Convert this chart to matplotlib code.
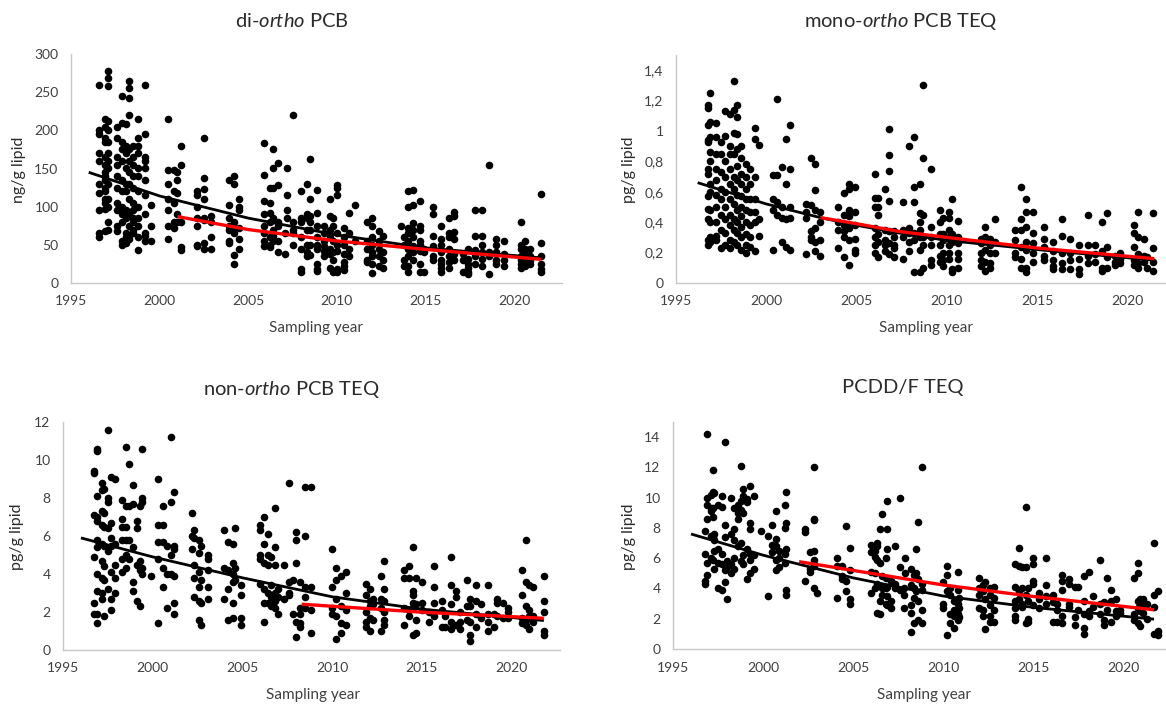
import matplotlib
matplotlib.use('Agg')
import matplotlib.pyplot as plt
import numpy as np

plt.rcParams['font.family'] = ['Lato', 'DejaVu Sans']
plt.rcParams['mathtext.fontset'] = 'custom'
plt.rcParams['mathtext.rm'] = 'Lato'
plt.rcParams['mathtext.it'] = 'Lato:italic'

# ---- di-ortho PCB (ng/g lipid), points grouped by sampling time ----
di_yr = [1996.6, 1996.9, 1997.1, 1997.6, 1997.9, 1998.1, 1998.3, 1998.5, 1998.8, 1999.2,
         1999.5, 2000.5, 2000.8, 2001.0, 2001.2, 2002.1, 2002.5, 2002.9, 2003.9, 2004.2,
         2004.5, 2005.9, 2006.2, 2006.4, 2006.7, 2007.1, 2007.2, 2007.5, 2008.0, 2008.3,
         2008.5, 2008.9, 2009.3, 2009.6, 2009.8, 2010.0, 2010.4, 2010.7, 2011.0, 2011.7,
         2012.0, 2012.4, 2012.6, 2013.6, 2013.8, 2014.0, 2014.3, 2014.7, 2014.9, 2015.4,
         2015.9, 2016.3, 2016.6, 2017.1, 2017.4, 2017.8, 2018.2, 2018.6, 2019.0, 2019.4,
         2020.4, 2020.6, 2020.9, 2021.5]
di_vals = [[260, 200, 195, 170, 160, 130, 118, 95, 65, 60],
           [215, 205, 190, 185, 165, 155, 145, 140, 135, 125, 120, 110, 105, 97, 68],
           [278, 268, 258, 212, 200, 185, 170, 160, 150, 130, 110, 100, 80, 70],
           [205, 190, 165, 155, 140, 125, 105, 95, 75, 68],
           [245, 210, 185, 175, 160, 135, 120, 100, 90, 80, 55, 50],
           [208, 180, 170, 150, 130, 120, 95, 85, 65, 60, 52],
           [265, 255, 243, 220, 175, 160, 145, 130, 110, 90, 75, 62, 58],
           [180, 165, 155, 140, 125, 105, 95, 85, 80, 70, 65],
           [215, 190, 180, 170, 150, 140, 120, 100, 85, 75, 60, 43],
           [260, 195, 165, 160, 150, 135, 115, 90, 65, 62, 55],
           [102, 75, 55],
           [215, 148, 130, 110, 95, 75, 57],
           [148, 120, 105, 80, 72],
           [145, 135, 118, 90, 80],
           [180, 155, 80, 47, 43],
           [120, 115, 100, 85, 75, 50, 48],
           [190, 138, 123, 110, 85, 82, 52, 45],
           [88, 80, 60, 45],
           [135, 102, 85, 75, 70, 55, 52],
           [140, 130, 80, 72, 65, 37, 25],
           [110, 100, 95, 72, 58, 45],
           [183, 142, 108, 90, 75, 65, 55, 48],
           [125, 105, 92, 80, 60, 50, 47],
           [175, 150, 125, 85, 70, 62, 55],
           [157, 128, 80, 75, 55, 40],
           [38, 65],
           [150, 115, 95, 85],
           [220, 80, 70, 65, 50],
           [120, 85, 80, 60, 45, 15, 18],
           [130, 90, 85, 70, 50, 40, 35],
           [163, 110, 88, 80, 70, 50, 37],
           [122, 92, 75, 60, 50, 45, 25, 18, 16],
           [75, 65, 55, 48, 42, 35],
           [110, 88, 70, 60, 45, 38, 20],
           [85, 75, 55, 40, 30, 15],
           [128, 125, 115, 65, 50, 42, 18, 15],
           [72, 60, 50, 38, 28, 22, 17],
           [92, 65, 45, 35],
           [102, 55],
           [80, 55, 45, 30, 28],
           [85, 75, 60, 50, 40, 35, 25, 13],
           [68, 55, 45, 35, 22],
           [62, 40, 30, 20],
           [75],
           [60, 50, 30, 22],
           [120, 100, 72, 65, 55, 45, 35, 22, 15],
           [122, 102, 78, 70, 60, 48, 40, 30],
           [108, 75, 70, 55, 50, 42, 25, 15],
           [45, 40, 15],
           [100, 90, 62, 48, 35, 30],
           [75, 58, 50, 40, 30, 25, 20, 15],
           [85, 65, 60, 45, 35, 28, 20],
           [93, 88, 67, 58, 38, 30],
           [38, 30, 15],
           [45, 32, 25, 20, 15, 12],
           [96, 62, 43, 35, 25],
           [96, 62, 50, 40, 32, 22],
           [155, 40, 35, 12],
           [58, 50, 40, 30, 25],
           [55, 38, 30, 22],
           [80, 50, 45, 35, 30, 25, 20],
           [55, 45, 38, 32, 28, 22],
           [45, 35, 30, 25],
           [117, 52, 35, 25, 18, 14]]
di_trend_yr = [1996, 2000, 2005, 2010, 2015, 2021.5]
di_trend = [145, 114, 85, 63, 46, 33]
di_red_yr = [2001, 2005, 2010, 2015, 2021.5]
di_red = [87, 70, 55, 44, 31]

# ---- mono-ortho PCB TEQ (pg/g lipid) ----
mono_yr = [1996.8, 1996.9, 1997.2, 1997.5, 1997.7, 1998.0, 1998.2, 1998.4, 1998.6, 1998.9,
           1999.1, 1999.4, 1999.6, 2000.4, 2000.6, 2000.9, 2001.1, 2001.3, 2002.2, 2002.5,
           2002.7, 2003.0, 2004.0, 2004.3, 2004.6, 2004.9, 2006.0, 2006.2, 2006.6, 2006.8,
           2007.1, 2007.6, 2007.9, 2008.2, 2008.5, 2008.7, 2009.1, 2009.6, 2009.8, 2010.1,
           2010.3, 2010.6, 2011.9, 2012.1, 2012.4, 2012.7, 2013.8, 2014.1, 2014.4, 2014.8,
           2015.4, 2015.9, 2016.4, 2016.8, 2017.3, 2017.8, 2018.2, 2018.6, 2018.9, 2019.3,
           2019.6, 2020.4, 2020.6, 2020.9, 2021.1, 2021.4]
mono_vals = [[1.17, 1.15, 1.04, 0.94, 0.93, 0.75, 0.72, 0.57, 0.49, 0.42, 0.28, 0.25],
             [1.25, 1.06, 0.96, 0.86, 0.80, 0.65, 0.60, 0.48, 0.40, 0.30, 0.27],
             [1.05, 0.96, 0.85, 0.75, 0.68, 0.58, 0.50, 0.40, 0.31, 0.28],
             [0.93, 0.85, 0.73, 0.62, 0.55, 0.45, 0.35, 0.23],
             [1.13, 0.97, 0.80, 0.70, 0.60, 0.50, 0.42, 0.33, 0.25],
             [1.11, 0.90, 0.85, 0.75, 0.65, 0.55, 0.45, 0.38, 0.28, 0.23],
             [1.33, 1.14, 0.99, 0.85, 0.70, 0.62, 0.52, 0.42, 0.35, 0.27],
             [1.17, 1.09, 0.98, 0.88, 0.77, 0.68, 0.58, 0.48, 0.40, 0.33, 0.25],
             [0.90, 0.82, 0.72, 0.65, 0.57, 0.50, 0.44, 0.37, 0.30, 0.22],
             [0.78, 0.70, 0.62, 0.55, 0.48, 0.40, 0.32, 0.25, 0.20],
             [0.75, 0.65, 0.55, 0.47, 0.38, 0.30, 0.24],
             [1.02, 0.95, 0.70, 0.55, 0.47, 0.40, 0.21],
             [0.91, 0.42, 0.31],
             [0.71, 0.55, 0.48, 0.22],
             [1.21, 0.71, 0.53, 0.45],
             [0.76, 0.50, 0.43, 0.27],
             [0.95, 0.65, 0.42, 0.24],
             [1.04, 0.75, 0.50, 0.43, 0.22],
             [0.52, 0.47, 0.43, 0.19],
             [0.82, 0.51, 0.34, 0.30, 0.28],
             [0.78, 0.61, 0.48, 0.36, 0.27, 0.21],
             [0.47, 0.40, 0.28, 0.18],
             [0.50, 0.40, 0.35, 0.23],
             [0.59, 0.45, 0.38, 0.34, 0.30, 0.17],
             [0.65, 0.62, 0.48, 0.44, 0.36, 0.28, 0.12],
             [0.63, 0.47, 0.38, 0.29, 0.22, 0.20],
             [0.72, 0.56, 0.50, 0.36, 0.30, 0.25, 0.20],
             [0.56, 0.50, 0.45, 0.32, 0.27, 0.17],
             [0.62, 0.35, 0.28, 0.25, 0.21],
             [1.01, 0.84, 0.74, 0.54, 0.34, 0.26, 0.19],
             [0.34, 0.30, 0.25, 0.23, 0.17],
             [0.53, 0.35, 0.30, 0.16],
             [0.90, 0.36, 0.33, 0.27, 0.21],
             [0.96, 0.63, 0.53, 0.33, 0.28, 0.07],
             [0.65, 0.46, 0.40, 0.35, 0.30, 0.22, 0.07],
             [1.30, 0.82, 0.45, 0.30, 0.25, 0.10],
             [0.75, 0.37, 0.30, 0.25, 0.15, 0.12],
             [0.48, 0.40, 0.32, 0.25, 0.18, 0.14],
             [0.43, 0.32, 0.28, 0.20, 0.15, 0.11],
             [0.47, 0.43, 0.35, 0.30, 0.25, 0.20, 0.16],
             [0.55, 0.32, 0.27, 0.07, 0.09],
             [0.41, 0.30, 0.26, 0.20, 0.16, 0.10],
             [0.29, 0.26, 0.20, 0.15, 0.11],
             [0.37, 0.30, 0.22, 0.14, 0.08],
             [0.29, 0.25, 0.20, 0.13, 0.10],
             [0.42, 0.27, 0.20],
             [0.35, 0.28, 0.20, 0.17],
             [0.63, 0.42, 0.35, 0.24, 0.16, 0.10],
             [0.55, 0.47, 0.37, 0.27, 0.22, 0.10, 0.07],
             [0.47, 0.33, 0.26, 0.20, 0.14],
             [0.37, 0.29, 0.24, 0.18, 0.15],
             [0.27, 0.21, 0.15, 0.11, 0.09],
             [0.42, 0.31, 0.20, 0.13, 0.09],
             [0.29, 0.20, 0.15, 0.09],
             [0.25, 0.16, 0.09, 0.06],
             [0.45, 0.25, 0.18, 0.13],
             [0.25, 0.19, 0.14],
             [0.40, 0.21, 0.10, 0.08],
             [0.46, 0.24, 0.17, 0.10],
             [0.18, 0.14, 0.12],
             [0.20, 0.16, 0.13],
             [0.38, 0.33, 0.24, 0.15, 0.12],
             [0.47, 0.30, 0.19, 0.13, 0.10],
             [0.29, 0.18, 0.14],
             [0.17, 0.10],
             [0.46, 0.23, 0.14, 0.08]]
mono_trend_yr = [1996.2, 2000, 2003, 2005, 2007.3, 2010, 2015, 2021.5]
mono_trend = [0.66, 0.52, 0.43, 0.38, 0.33, 0.28, 0.22, 0.15]
mono_red_yr = [2003, 2005, 2007.3, 2010, 2015, 2021.5]
mono_red = [0.43, 0.39, 0.34, 0.30, 0.23, 0.16]

# ---- non-ortho PCB TEQ (pg/g lipid) ----
non_yr = [1996.7, 1996.9, 1997.2, 1997.3, 1997.5, 1997.7, 1997.9, 1998.3, 1998.5, 1998.7,
          1998.9, 1999.1, 1999.3, 1999.4, 1999.9, 2000.3, 2000.6, 2000.8, 2001.0, 2001.2,
          2002.2, 2002.3, 2002.6, 2002.7, 2003.1, 2004.0, 2004.2, 2004.5, 2004.6, 2004.9,
          2006.0, 2006.2, 2006.4, 2006.6, 2006.8, 2007.0, 2007.3, 2007.6, 2007.8, 2008.0,
          2008.2, 2008.5, 2008.8, 2010.0, 2010.2, 2010.5, 2010.8, 2011.9, 2012.1, 2012.3,
          2012.7, 2012.9, 2014.0, 2014.3, 2014.5, 2014.7, 2015.0, 2015.4, 2015.7, 2016.1,
          2016.3, 2016.6, 2016.9, 2017.1, 2017.5, 2017.7, 2018.0, 2018.3, 2018.7, 2019.0,
          2019.2, 2019.5, 2019.8, 2020.6, 2020.8, 2021.0, 2021.2, 2021.8]
non_vals = [[9.4, 9.3, 7.1, 4.9, 2.5, 1.9],
            [10.6, 10.5, 8.1, 7.0, 6.8, 5.8, 5.4, 4.0, 3.1, 1.4, 1.9],
            [8.8, 8.4, 7.3, 6.6, 5.6, 4.7, 3.8, 3.0, 2.7],
            [8.5, 7.2, 6.5, 5.5, 4.4, 3.7, 1.8],
            [11.6, 8.0, 7.8, 6.4, 5.2, 3.2],
            [9.1, 6.7, 5.9, 5.5, 4.1, 2.7, 2.1],
            [9.0, 5.6, 4.5, 3.8, 3.0],
            [7.9, 6.9, 6.5, 5.8, 4.8, 4.1],
            [10.7, 7.6, 6.5, 5.8, 5.0, 4.3],
            [9.8, 7.6, 5.8, 4.8],
            [8.7, 7.7, 5.4, 3.6, 3.1],
            [6.8, 6.4, 4.5, 2.6],
            [7.6, 4.7, 4.2, 2.3],
            [10.6, 8.0, 7.8, 4.3, 4.0],
            [3.9],
            [9.0, 6.6, 5.7, 4.8, 1.4],
            [7.6, 6.6, 5.7, 4.3, 3.3],
            [5.5, 4.0, 2.2],
            [11.2, 7.8, 5.0, 4.0],
            [8.3, 5.5, 5.3, 3.9, 2.5, 1.9],
            [7.2, 6.0, 5.3],
            [6.3, 5.9, 4.5, 3.8, 2.8],
            [5.8, 5.1, 4.1, 3.3, 2.6, 1.6],
            [5.5, 3.7, 2.5, 1.3],
            [5.0, 4.8, 4.2, 3.3, 2.7],
            [6.3, 4.3, 2.7],
            [5.7, 4.2, 3.2, 1.6],
            [5.6, 4.6, 4.0, 3.6, 2.5, 1.7],
            [6.4, 4.3, 3.7],
            [3.4, 2.9, 1.7, 1.3],
            [6.6, 6.3, 5.0, 4.8, 3.5],
            [7.0, 5.6, 4.6, 3.2, 2.5, 1.5],
            [6.1, 5.0, 4.5, 3.0, 2.5],
            [4.9, 3.4, 2.8, 2.3],
            [7.5, 5.4, 4.5, 3.0, 2.6, 2.2],
            [3.2, 2.8, 1.9],
            [4.5, 2.7],
            [8.8, 3.6, 3.0, 2.9],
            [3.7, 1.9],
            [6.2, 5.8, 4.6, 1.5, 0.7],
            [3.6, 2.2, 1.9, 1.4, 1.2],
            [8.6, 6.0, 3.3, 2.8, 2.2],
            [8.6, 3.3, 2.1, 0.9],
            [5.3, 3.3, 2.2, 1.9],
            [4.3, 3.7, 2.7, 1.8, 0.6],
            [3.9, 2.3, 1.4, 0.9],
            [4.1, 3.0, 2.1, 1.3],
            [3.5, 2.9, 2.0, 1.5, 1.2],
            [3.2, 2.6, 2.3, 1.7, 1.0],
            [2.7, 2.4, 1.6],
            [3.9, 2.7, 2.2, 1.0],
            [4.7, 3.2, 2.6, 2.0, 1.6, 1.3],
            [4.2, 3.8, 2.2, 1.3],
            [4.4, 3.8, 2.1, 1.8],
            [5.4, 3.1, 2.9, 2.5, 2.2, 0.8],
            [3.8, 2.4, 1.6, 0.9],
            [3.6, 2.5, 2.1],
            [1.5, 2.0],
            [4.4, 3.3, 2.5, 1.8],
            [2.6, 2.1, 1.2],
            [1.8, 1.2],
            [4.9, 3.4, 2.4, 1.5, 1.1],
            [3.1, 2.8, 1.3],
            [2.0, 1.5, 1.1],
            [3.7, 2.3, 1.6],
            [2.7, 2.3, 1.5, 0.8, 0.5],
            [3.4, 2.6, 1.9, 1.2],
            [2.4, 1.7],
            [3.4, 1.9, 1.5, 1.0],
            [1.9, 1.2],
            [2.7, 2.5, 1.8],
            [2.5, 1.7],
            [2.2, 2.0, 1.7],
            [4.2, 2.9, 1.7, 1.4],
            [5.8, 3.6, 2.3, 1.6, 1.3],
            [3.4, 2.1, 1.8, 1.1],
            [3.3, 1.8, 1.5],
            [3.9, 2.6, 2.0, 1.0, 0.8]]
non_trend_yr = [1996, 2000, 2005, 2010, 2015, 2021.8]
non_trend = [5.9, 4.9, 3.8, 2.8, 2.15, 1.55]
non_red_yr = [2008.3, 2015, 2021.8]
non_red = [2.41, 1.99, 1.67]

# ---- PCDD/F TEQ (pg/g lipid) ----
pcdd_yr = [1996.8, 1996.9, 1997.1, 1997.2, 1997.3, 1997.5, 1997.7, 1997.9, 1998.0, 1998.2,
           1998.4, 1998.6, 1998.8, 1998.9, 1999.1, 1999.3, 1999.5, 1999.9, 2000.3, 2000.5,
           2000.7, 2000.9, 2001.2, 2001.3, 2002.3, 2002.6, 2002.8, 2003.0, 2004.1, 2004.4,
           2004.6, 2004.8, 2006.0, 2006.2, 2006.3, 2006.5, 2006.6, 2006.8, 2006.9, 2007.1,
           2007.3, 2007.6, 2007.8, 2007.9, 2008.2, 2008.4, 2008.5, 2008.6, 2008.8, 2010.0,
           2010.2, 2010.4, 2010.6, 2010.8, 2010.9, 2012.0, 2012.2, 2012.3, 2012.6, 2012.8,
           2014.0, 2014.2, 2014.4, 2014.6, 2014.7, 2015.0, 2015.3, 2015.7, 2016.1, 2016.3,
           2016.6, 2017.0, 2017.3, 2017.5, 2017.8, 2018.1, 2018.3, 2018.7, 2018.9, 2019.1,
           2019.3, 2019.6, 2019.8, 2020.6, 2020.8, 2020.9, 2021.1, 2021.3, 2021.7, 2021.9]
pcdd_vals = [[7.8, 6.3, 4.5, 4.3],
             [14.2, 10.0, 9.5, 8.6, 5.7, 4.9],
             [10.2, 9.3, 9.1, 7.5, 6.0],
             [11.8, 10.4, 9.3, 8.7, 7.4, 5.9],
             [10.3, 7.6, 7.2, 6.5, 5.3],
             [9.5, 6.6, 5.7, 4.0],
             [10.1, 9.4, 6.3, 5.6, 3.9],
             [13.7, 8.2, 7.4, 5.2, 4.4],
             [5.8, 5.4, 3.3],
             [10.0, 7.6, 5.6, 5.0],
             [9.3, 7.9, 7.2, 6.0, 5.3],
             [9.5, 9.0, 8.6, 6.8],
             [12.1, 9.8, 9.2, 7.0, 5.8],
             [10.6, 10.1, 9.0, 6.2, 5.6],
             [9.9, 9.7, 6.6, 4.6],
             [10.8, 8.3, 7.9, 6.3, 5.9, 5.0],
             [10.1, 6.2, 5.3],
             [7.8],
             [7.5, 3.5],
             [8.2, 6.9, 6.4],
             [9.1, 7.3, 6.8, 5.9, 5.2],
             [6.5, 6.0, 5.4],
             [9.5, 8.0, 6.3, 5.7],
             [10.4, 8.3, 6.6, 3.9, 3.6],
             [7.9, 7.7, 4.5],
             [6.4, 5.3, 5.1],
             [12.0, 8.6, 8.5, 6.5, 5.9, 5.5, 4.0],
             [3.7],
             [6.0, 5.5, 3.4],
             [5.5, 4.8, 4.6],
             [8.1, 4.5, 3.8],
             [6.7, 5.2, 3.3, 3.0],
             [6.9, 6.4, 5.1, 3.7],
             [6.5, 6.1, 5.0, 4.0],
             [7.0, 6.8, 5.9, 4.3, 2.4],
             [7.9, 5.7, 3.2, 2.3],
             [8.9, 4.8, 4.0, 3.6],
             [6.0, 4.7, 4.0, 3.0],
             [9.8, 7.9, 6.6, 4.1, 3.5, 2.9],
             [4.5, 3.2, 2.7],
             [6.8, 4.3, 4.0],
             [10.0, 5.4, 3.9],
             [4.0, 3.6, 2.7],
             [6.0, 5.0],
             [5.3, 4.2, 2.9, 2.4, 1.1],
             [4.9, 4.0, 3.4, 1.7],
             [6.6, 5.0, 3.8],
             [8.4, 4.6, 3.2, 1.9],
             [12.0, 4.3, 3.9, 2.6, 1.7],
             [4.4, 3.0, 2.7],
             [5.5, 4.9, 3.8, 0.9],
             [4.0, 3.6, 1.7, 2.3],
             [3.2, 2.6, 2.2, 1.4],
             [5.1, 3.9, 3.0, 2.3, 1.9],
             [3.4, 2.7, 2.1],
             [4.7, 4.0, 3.6, 2.7],
             [4.2, 3.8, 2.6, 2.2],
             [4.4, 3.3, 1.3],
             [4.0, 3.6, 2.9, 2.2, 1.8],
             [4.1, 3.4, 2.6, 1.8],
             [5.6, 4.1, 3.2, 2.7, 2.2, 1.9],
             [6.7, 5.5, 3.8, 3.3],
             [5.4, 4.0, 3.0, 2.8],
             [9.4, 5.4, 3.6, 1.7],
             [4.0, 3.2, 2.0, 1.8],
             [6.0, 5.6, 4.5, 4.3, 2.9],
             [3.7, 3.3, 2.7],
             [6.0, 4.2, 3.5, 3.0],
             [3.6, 3.1, 1.8],
             [3.0, 2.6, 1.8],
             [4.9, 4.5, 3.9, 2.2, 1.7],
             [4.6, 4.3, 3.0, 2.8],
             [4.1, 2.1, 1.6],
             [4.1, 2.6],
             [4.8, 3.2, 2.3, 1.4, 1.0],
             [5.1, 2.5, 2.2],
             [3.5, 2.8],
             [5.9, 3.0, 2.3],
             [3.1, 1.9, 1.6],
             [4.7, 2.6],
             [3.9, 3.2, 1.8],
             [3.3, 2.5, 2.2],
             [2.6, 2.4],
             [4.7, 2.3, 1.9],
             [5.7, 5.0, 3.2, 2.7, 1.7],
             [3.3, 3.0, 2.5, 1.5],
             [3.3, 2.9, 2.4],
             [3.0, 2.0],
             [7.0, 3.6, 2.8, 1.0],
             [3.8, 1.2, 0.9]]
pcdd_trend_yr = [1996, 2000, 2005, 2010, 2015, 2021.7]
pcdd_trend = [7.6, 6.2, 4.7, 3.5, 2.75, 1.97]
pcdd_red_yr = [2002, 2010, 2015, 2021.7]
pcdd_red = [5.77, 4.23, 3.47, 2.59]


def flatten(yrs, vals):
    xs, ys = [], []
    for yr, group in zip(yrs, vals):
        xs += [yr] * len(group)
        ys += group
    return np.array(xs), np.array(ys)


W, H = 1166, 707
fig = plt.figure(figsize=(W / 100, H / 100), dpi=100)

TXT = '#2b2b2b'
TICK = '#404040'


def px_axes(left, right, bottom, top):
    return fig.add_axes([left / W, 1 - bottom / H, (right - left) / W, (bottom - top) / H])


panels = [
    # axes box (px), title, title pos, ylabel pos, xlabel pos, data, ylim, yticks
    dict(box=(71, 562, 283, 54), title=r'di-$\mathit{ortho}$ PCB', tpos=(292, 21),
         ylab='ng/g lipid', ypos=(19, 170), xpos=(316, 328),
         data=(di_yr, di_vals), trend=(di_trend_yr, di_trend), red=(di_red_yr, di_red),
         ylim=300, yticks=np.arange(0, 301, 50)),
    dict(box=(676, 1176, 283, 55), title=r'mono-$\mathit{ortho}$ PCB TEQ', tpos=(901, 21),
         ylab='pg/g lipid', ypos=(629, 170), xpos=(926, 328),
         data=(mono_yr, mono_vals), trend=(mono_trend_yr, mono_trend), red=(mono_red_yr, mono_red),
         ylim=1.5, yticks=np.arange(0, 1.41, 0.2)),
    dict(box=(63, 560, 650, 422), title=r'non-$\mathit{ortho}$ PCB TEQ', tpos=(292, 389),
         ylab='pg/g lipid', ypos=(17, 537), xpos=(313, 695),
         data=(non_yr, non_vals), trend=(non_trend_yr, non_trend), red=(non_red_yr, non_red),
         ylim=12, yticks=np.arange(0, 13, 2)),
    dict(box=(673, 1172, 649, 422), title='PCDD/F TEQ', tpos=(903, 387),
         ylab='pg/g lipid', ypos=(629, 537), xpos=(924, 695),
         data=(pcdd_yr, pcdd_vals), trend=(pcdd_trend_yr, pcdd_trend), red=(pcdd_red_yr, pcdd_red),
         ylim=15, yticks=np.arange(0, 15, 2)),
]

for p in panels:
    ax = px_axes(*p['box'])
    x, y = flatten(*p['data'])
    ax.scatter(x, y, s=30, color='black', linewidths=0, zorder=2, clip_on=False)
    ax.plot(*p['trend'], color='black', lw=2.0, zorder=3, solid_capstyle='butt')
    ax.plot(*p['red'], color='#ff0000', lw=2.4, zorder=4, solid_capstyle='butt')

    ax.set_xlim(1995, 2022.7)
    ax.set_ylim(0, p['ylim'])
    ax.set_xticks([1995, 2000, 2005, 2010, 2015, 2020])
    ax.set_yticks(p['yticks'])
    ax.set_yticklabels([('%g' % v).replace('.', ',') for v in p['yticks']])
    ax.tick_params(length=0, labelsize=10, colors=TICK)
    ax.tick_params(axis='x', pad=9)
    ax.tick_params(axis='y', pad=9)
    for side in ['top', 'right']:
        ax.spines[side].set_visible(False)
    for side in ['left', 'bottom']:
        ax.spines[side].set_color('#c8c8c8')
        ax.spines[side].set_linewidth(1.0)

    fig.text(p['tpos'][0] / W, 1 - p['tpos'][1] / H, p['title'], ha='center', va='center',
             fontsize=14.5, color=TXT)
    fig.text(p['ypos'][0] / W, 1 - p['ypos'][1] / H, p['ylab'], ha='center', va='center',
             rotation=90, fontsize=11.5, color=TXT)
    fig.text(p['xpos'][0] / W, 1 - p['xpos'][1] / H, 'Sampling year', ha='center', va='center',
             fontsize=11, color=TICK)

fig.savefig('out.png', dpi=100)
